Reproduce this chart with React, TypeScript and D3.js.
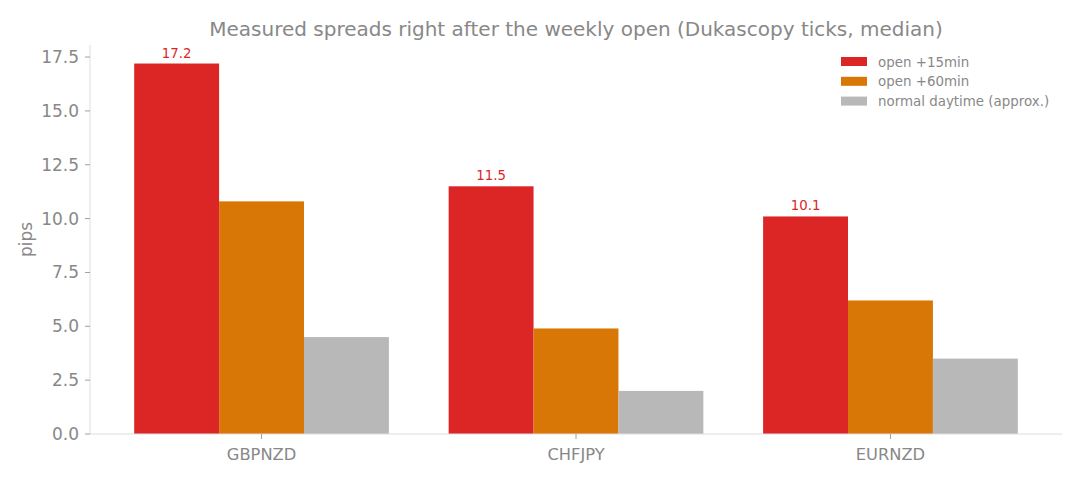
import React from "react";
import * as d3 from "d3";

const categories = ["GBPNZD", "CHFJPY", "EURNZD"];
const seriesNames = ["open +15min", "open +60min", "normal daytime (approx.)"];
const open15 = [17.2, 11.5, 10.1];
const open60 = [10.8, 4.9, 6.2];
const normal = [4.5, 2.0, 3.5];
const yTicks = [0, 2.5, 5, 7.5, 10, 12.5, 15, 17.5];
const colors = ["#dc2626", "#d97706", "#b8b8b8"];

const W = 1080;
const H = 480;
const left = 90;
const right = 1062;
const top = 45;
const bottom = 434;
const font = "DejaVu Sans, sans-serif";
const textColor = "#888888";
const spineColor = "#dddddd";

export default function App() {
  const series = [open15, open60, normal];
  const bw = 0.27;
  const x = d3.scaleLinear().domain([-0.5455, 2.5455]).range([left, right]);
  const y = d3.scaleLinear().domain([0, 18.06]).range([bottom, top]);
  const px = x(bw) - x(0);

  return (
    <svg width={W} height={H} style={{ position: "absolute", left: 0, top: 0, background: "#fff" }} fontFamily={font}>
      <text x={(left + right) / 2} y={36} textAnchor="middle" fontSize={20} fill={textColor}>
        Measured spreads right after the weekly open (Dukascopy ticks, median)
      </text>
      {series.map((vals, si) =>
        vals.map((v, ci) => {
          const cx = x(ci + (si - 1) * bw);
          return (
            <rect key={`${si}-${ci}`} x={cx - px / 2} y={y(v)} width={px} height={y(0) - y(v)} fill={colors[si]} />
          );
        })
      )}
      {open15.map((v, ci) => (
        <text key={`l${ci}`} x={x(ci - bw)} y={y(v) - 6} textAnchor="middle" fontSize={13.3} fill={colors[0]}>
          {v.toFixed(1)}
        </text>
      ))}
      <line x1={left} x2={left} y1={top} y2={bottom} stroke={spineColor} strokeWidth={1} />
      <line x1={left} x2={right} y1={bottom} y2={bottom} stroke={spineColor} strokeWidth={1} />
      {yTicks.map((t) => (
        <g key={`y${t}`}>
          <line x1={left - 5} x2={left} y1={y(t)} y2={y(t)} stroke={textColor} strokeWidth={0.8} />
          <text x={left - 11} y={y(t) + 6} textAnchor="end" fontSize={17} fill={textColor}>
            {t.toFixed(1)}
          </text>
        </g>
      ))}
      {categories.map((c, ci) => (
        <g key={`x${c}`}>
          <line x1={x(ci)} x2={x(ci)} y1={bottom} y2={bottom + 5} stroke={textColor} strokeWidth={0.8} />
          <text x={x(ci)} y={bottom + 26} textAnchor="middle" fontSize={16.3} fill={textColor}>
            {c}
          </text>
        </g>
      ))}
      <text transform={`translate(32, ${(top + bottom) / 2}) rotate(-90)`} textAnchor="middle" fontSize={17} fill={textColor}>
        pips
      </text>
      {seriesNames.map((n, i) => (
        <g key={`lg${i}`}>
          <rect x={841} y={57 + i * 19.8} width={26} height={9} fill={colors[i]} />
          <text x={878} y={66.5 + i * 19.8} fontSize={13.4} fill={textColor}>
            {n}
          </text>
        </g>
      ))}
    </svg>
  );
}
